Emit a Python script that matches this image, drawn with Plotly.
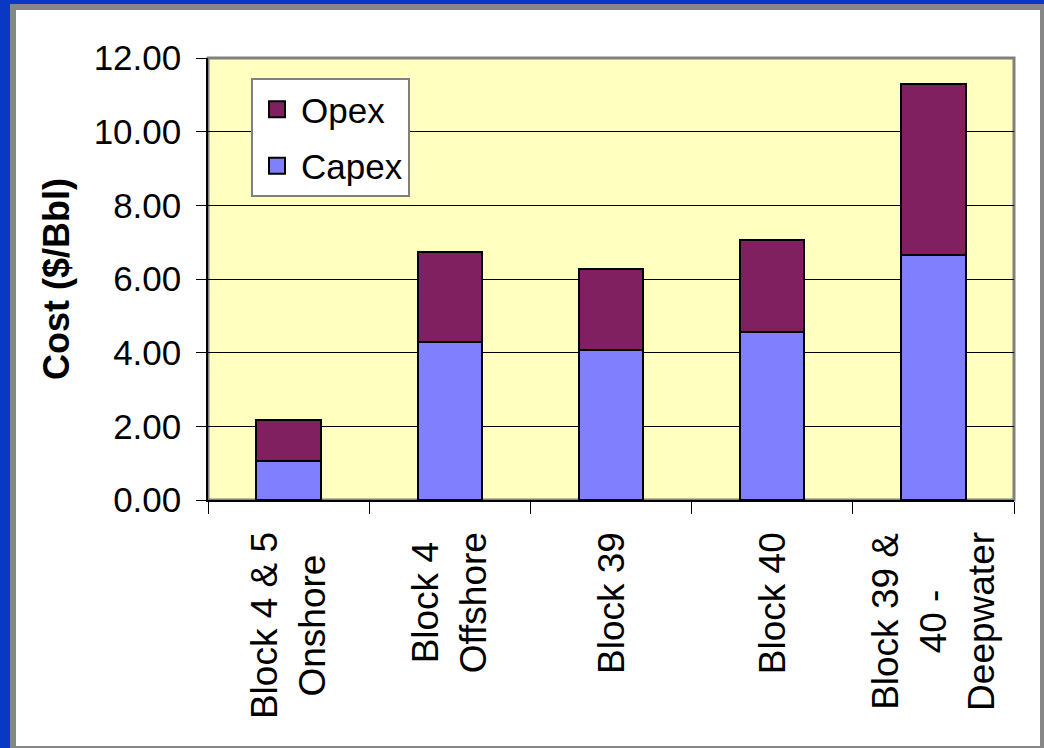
import plotly.graph_objects as go

categories = [
    "Block 4 & 5<br>Onshore",
    "Block 4<br>Offshore",
    "Block 39",
    "Block 40",
    "Block 39 &<br>40 -<br>Deepwater",
]
capex = [1.05, 4.28, 4.08, 4.55, 6.65]
opex = [1.11, 2.45, 2.19, 2.51, 4.64]
y_ticks = [0, 2, 4, 6, 8, 10, 12]

CAPEX_COLOR = "#8080FF"
OPEX_COLOR = "#802060"
FONT = "Liberation Sans, Arial, sans-serif"

W, H = 1044, 748
ML, MR, MT, MB = 208, 30, 58, 248
PW, PH = W - ML - MR, H - MT - MB


def px_x(px):
    return (px - ML) / PW


def px_y(py):
    return (H - MB - py) / PH


fig = go.Figure()
fig.add_trace(go.Bar(x=categories, y=capex, name="Capex", marker=dict(color=CAPEX_COLOR, line=dict(color="black", width=2)), showlegend=False))
fig.add_trace(go.Bar(x=categories, y=opex, name="Opex", marker=dict(color=OPEX_COLOR, line=dict(color="black", width=2)), showlegend=False))

# legend entries (Opex listed first, as in the reference)
fig.add_trace(go.Scatter(x=[None], y=[None], mode="markers", name="Opex", legendgroup="o",
                         marker=dict(symbol="square", size=16, color=OPEX_COLOR, line=dict(color="black", width=2))))
fig.add_trace(go.Scatter(x=[None], y=[None], mode="markers", name="Capex", legendgroup="c",
                         marker=dict(symbol="square", size=16, color=CAPEX_COLOR, line=dict(color="black", width=2))))

shapes = [
    dict(type="rect", xref="paper", yref="paper", layer="below",
         x0=px_x(10), x1=px_x(1044), y0=px_y(4), y1=px_y(748),
         fillcolor="#878787", line=dict(width=0)),
    dict(type="rect", xref="paper", yref="paper", layer="below",
         x0=px_x(16), x1=px_x(1040), y0=px_y(10), y1=px_y(746),
         fillcolor="white", line=dict(width=0)),
    dict(type="rect", xref="paper", yref="paper", layer="below",
         x0=0, x1=1, y0=0, y1=1,
         fillcolor="#FFFFC0", line=dict(color="#808080", width=3)),
]

# category labels, rotated, lines centred
annotations = [
    dict(x=c, y=px_y(530), xref="x", yref="paper", text=c, textangle=-90,
         xanchor="center", yanchor="top", align="center", showarrow=False,
         font=dict(size=37, family=FONT, color="black"))
    for c in categories
]

fig.update_layout(
    width=W, height=H,
    margin=dict(l=ML, r=MR, t=MT, b=MB, pad=0),
    paper_bgcolor="#0a37c4",
    plot_bgcolor="rgba(0,0,0,0)",
    barmode="stack",
    bargap=0.6,
    font=dict(family=FONT, color="black"),
    shapes=shapes,
    annotations=annotations,
    showlegend=True,
    legend=dict(
        x=px_x(251), y=px_y(78), xanchor="left", yanchor="top",
        bgcolor="white", bordercolor="#808080", borderwidth=2,
        font=dict(size=35, family=FONT, color="black"),
        traceorder="grouped", tracegroupgap=8,
        itemwidth=38,
    ),
    xaxis=dict(
        type="category",
        tickson="boundaries",
        ticks="outside", ticklen=12, tickcolor="black", tickwidth=1,
        showticklabels=False,
        showline=True, linecolor="black", linewidth=1.5,
        showgrid=False,
        fixedrange=True,
    ),
    yaxis=dict(
        range=[0, 12],
        tickvals=y_ticks,
        tickformat=".2f",
        ticks="outside", ticklen=10, tickcolor="black", tickwidth=1,
        tickfont=dict(size=35, family=FONT, color="black"),
        ticklabelstandoff=8,
        showline=True, linecolor="black", linewidth=1.5,
        showgrid=True, gridcolor="black", gridwidth=1,
        zeroline=False,
        title=dict(text="<b>Cost ($/Bbl)</b>", font=dict(size=36, family=FONT, color="black"), standoff=13),
        fixedrange=True,
    ),
)

fig.write_html("out.html")
